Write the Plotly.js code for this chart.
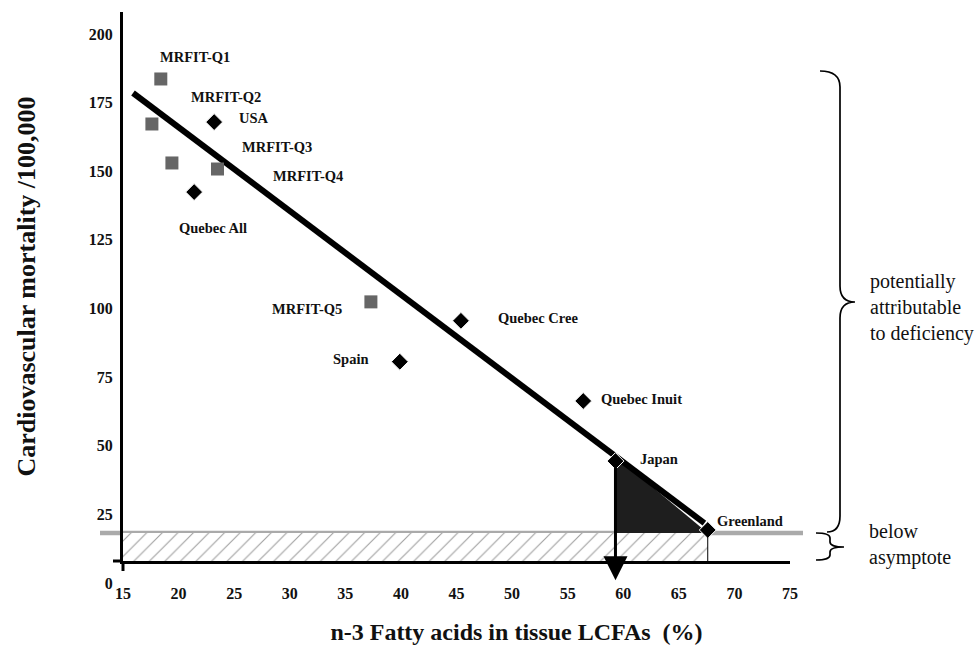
<!DOCTYPE html>
<html>
<head>
<meta charset="utf-8">
<script src="https://cdn.plot.ly/plotly-3.0.1.min.js"></script>
<style>html,body{margin:0;padding:0;background:#fff;}#chart{width:979px;height:650px;}</style>
</head>
<body>
<div id="chart"></div>
<script>
// ---- data ----
var mrfitNames = ['MRFIT-Q1', 'MRFIT-Q2', 'MRFIT-Q3', 'MRFIT-Q4', 'MRFIT-Q5'];
var mrfitX = [18.4, 17.6, 19.4, 23.5, 37.3];
var mrfitY = [175.6, 159.2, 145.0, 142.8, 94.4];

var popNames = ['USA', 'Quebec All', 'Quebec Cree', 'Spain', 'Quebec Inuit', 'Japan', 'Greenland'];
var popX = [23.2, 21.4, 45.4, 39.9, 56.4, 59.3, 67.6];
var popY = [159.9, 134.4, 87.5, 72.6, 58.3, 36.4, 11.3];

var fitX = [15.9, 67.3];
var fitY = [170.5, 13.8];

var asymptote = 10.2;

var xTicks = [15, 20, 25, 30, 35, 40, 45, 50, 55, 60, 65, 70, 75];
var yTicks = [0, 25, 50, 75, 100, 125, 150, 175, 200];

// ---- layout helpers ----
var L = 123, R = 790, T = 12, B = 561;
function px(x) { return (x - L) / (R - L); }
function py(y) { return (B - y) / (B - T); }
function fitAt(x) {
  var s = (fitY[1] - fitY[0]) / (fitX[1] - fitX[0]);
  return fitY[0] + s * (x - fitX[0]);
}
function brace(x0, xs, xt, yTop, yTip, yBot, r, x1) {
  function p(x, y) { return px(x).toFixed(5) + ',' + py(y).toFixed(5); }
  return 'M' + p(x0, yTop) +
    ' Q' + p(xs, yTop) + ' ' + p(xs, yTop + r) +
    ' L' + p(xs, yTip - r) +
    ' Q' + p(xs, yTip) + ' ' + p(xt, yTip) +
    ' Q' + p(xs, yTip) + ' ' + p(xs, yTip + r) +
    ' L' + p(xs, yBot - r) +
    ' Q' + p(xs, yBot) + ' ' + p(x1, yBot);
}

var japanX = popX[5], greenX = popX[6];
var serif = 'Liberation Serif, Times New Roman, serif';

var traces = [
  { // hatched "below asymptote" band
    x: [xTicks[0], greenX, greenX, xTicks[0]],
    y: [0, 0, asymptote, asymptote],
    type: 'scatter', mode: 'lines', fill: 'toself',
    fillcolor: 'rgba(0,0,0,0)',
    fillpattern: { shape: '/', fgcolor: '#a0a0a0', bgcolor: '#ffffff', size: 11, solidity: 0.1 },
    line: { width: 0 }, hoverinfo: 'skip', showlegend: false
  },
  { // dark triangle between Japan and Greenland
    x: [japanX, japanX, greenX],
    y: [fitAt(japanX), asymptote, asymptote],
    type: 'scatter', mode: 'lines', fill: 'toself', fillcolor: '#1e1e1e',
    line: { width: 0 }, hoverinfo: 'skip', showlegend: false
  },
  { // regression line
    x: fitX, y: fitY, type: 'scatter', mode: 'lines',
    line: { color: '#000', width: 6 }, hoverinfo: 'skip', showlegend: false
  },
  {
    x: mrfitX, y: mrfitY, text: mrfitNames, type: 'scatter', mode: 'markers',
    marker: { symbol: 'square', size: 13, color: '#666666', line: { width: 0 } },
    showlegend: false, cliponaxis: false
  },
  {
    x: popX, y: popY, text: popNames, type: 'scatter', mode: 'markers',
    marker: { symbol: 'diamond', size: 13, color: '#000', line: { color: '#fff', width: 1 } },
    showlegend: false, cliponaxis: false
  }
];

// label offsets (px) relative to each point
var mrfitOff = [[34, 22], [74, 27], [105, 16], [91, -7], [-64, -7]];
var popOff = [[40, 4], [19, -36], [77, 3], [-49, 3], [58, 2], [44, 2], [42, 9]];

var annotations = [];
function addLabels(names, xs, ys, offs) {
  for (var i = 0; i < names.length; i++) {
    annotations.push({
      x: xs[i], y: ys[i], xref: 'x', yref: 'y', text: '<b>' + names[i] + '</b>',
      showarrow: false, xshift: offs[i][0], yshift: offs[i][1],
      font: { family: serif, size: 14.5, color: '#111' }
    });
  }
}
addLabels(mrfitNames, mrfitX, mrfitY, mrfitOff);
addLabels(popNames, popX, popY, popOff);

annotations.push({ // arrow from Japan down to the x axis
  x: japanX, y: -7, xref: 'x', yref: 'y', ax: japanX, ay: popY[5] - 2, axref: 'x', ayref: 'y',
  text: '', showarrow: true, arrowhead: 2, arrowsize: 1.6, arrowwidth: 3, arrowcolor: '#000'
});
annotations.push({
  x: px(868), y: py(307), xref: 'paper', yref: 'paper', xanchor: 'left', yanchor: 'middle',
  align: 'left', showarrow: false,
  text: 'potentially<br>attributable<br>to deficiency',
  font: { family: serif, size: 20, color: '#111' }
});
annotations.push({
  x: px(867), y: py(531), xref: 'paper', yref: 'paper', xanchor: 'left', yanchor: 'middle',
  showarrow: false, text: 'below', font: { family: serif, size: 20, color: '#111' }
});
annotations.push({
  x: px(867), y: py(557), xref: 'paper', yref: 'paper', xanchor: 'left', yanchor: 'middle',
  showarrow: false, text: 'asymptote', font: { family: serif, size: 20, color: '#111' }
});

var shapes = [
  { // asymptote band edge
    type: 'line', xref: 'paper', yref: 'y', x0: px(100), x1: px(803), y0: asymptote, y1: asymptote,
    line: { color: '#aaaaaa', width: 4.5 }, layer: 'below'
  },
  { // thin drop line at Greenland
    type: 'line', xref: 'x', yref: 'y', x0: greenX, x1: greenX, y0: 0, y1: asymptote,
    line: { color: '#000', width: 1 }
  },
  { // axis extensions
    type: 'line', xref: 'paper', yref: 'paper', x0: 0, x1: 0, y0: 0, y1: py(571),
    line: { color: '#000', width: 3 }
  },
  {
    type: 'line', xref: 'paper', yref: 'paper', x0: px(113), x1: 0, y0: 0, y1: 0,
    line: { color: '#000', width: 3 }
  },
  { type: 'path', xref: 'paper', yref: 'paper', path: brace(820, 840, 855, 71, 302, 532, 16, 827),
    line: { color: '#000', width: 1.7 } },
  { type: 'path', xref: 'paper', yref: 'paper', path: brace(816, 830, 844, 533, 547, 560, 5, 816),
    line: { color: '#000', width: 1.7 } }
];

var layout = {
  width: 979, height: 650,
  margin: { l: L, r: 979 - R, t: T, b: 650 - B, pad: 0 },
  paper_bgcolor: '#fff', plot_bgcolor: '#fff',
  showlegend: false,
  font: { family: serif, color: '#111' },
  xaxis: {
    range: [15, 75], tickvals: xTicks, ticktext: xTicks.map(String),
    showgrid: false, zeroline: false, showline: true, linecolor: '#000', linewidth: 3,
    ticks: '', ticklabelstandoff: 16,
    tickfont: { family: serif, size: 16, color: '#111', weight: 'bold' },
    title: { text: '<b>n-3 Fatty acids in tissue LCFAs  (%)</b>', standoff: 22,
      font: { family: serif, size: 24, color: '#111' } }
  },
  yaxis: {
    range: [0, 200], tickvals: yTicks, ticktext: yTicks.map(String),
    showgrid: false, zeroline: false, showline: true, linecolor: '#000', linewidth: 3,
    ticks: '', ticklabelstandoff: 4, ticklabelshift: 22,
    tickfont: { family: serif, size: 16, color: '#111', weight: 'bold' },
    title: { text: '<b>Cardiovascular mortality /100,000</b>', standoff: 46,
      font: { family: serif, size: 26, color: '#111' } }
  },
  annotations: annotations,
  shapes: shapes
};

Plotly.newPlot('chart', traces, layout, { displayModeBar: false, staticPlot: true }).then(function () {
  // the x title in the original sits right of the axis centre
  var t = document.querySelector('#chart .g-xtitle text');
  if (t) {
    var x = parseFloat(t.getAttribute('x')) || 0;
    t.setAttribute('x', x + 60);
  }
});
</script>
</body>
</html>
